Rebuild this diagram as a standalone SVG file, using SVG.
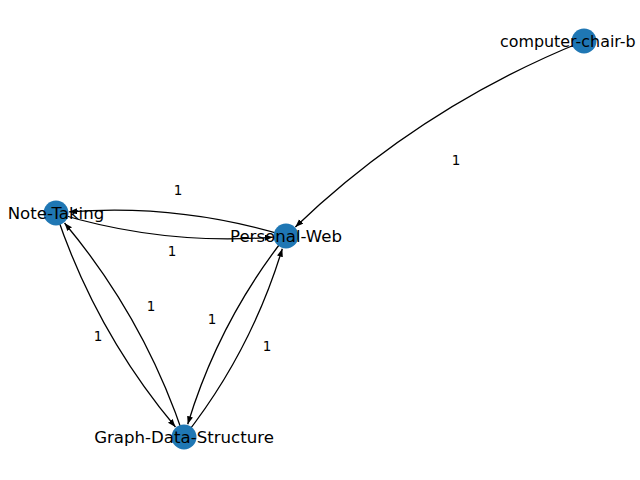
<svg xmlns="http://www.w3.org/2000/svg" width="640" height="480" viewBox="0 0 640 480">
<style>
.edge{fill:none;stroke:#000;stroke-width:1.3;marker-end:url(#arr)}
.node circle{fill:#1f77b4}
.node text{font-family:"DejaVu Sans",sans-serif;font-size:16.6px;fill:#000;text-anchor:middle}
.lbl{font-family:"DejaVu Sans",sans-serif;font-size:13.5px;fill:#000;text-anchor:middle}
</style>
<defs>
<marker id="arr" markerUnits="userSpaceOnUse" markerWidth="10" markerHeight="8" refX="8" refY="3" orient="auto">
<path d="M0,0 L8,3 L0,6 z" fill="#000"/>
</marker>
</defs>
<rect width="640" height="480" fill="#fff"/>
<g id="edges">
<path class="edge" d="M584,41 Q421.57,106.26 295.37,226.91"/>
<path class="edge" d="M56,213 Q162.39,245.57 272.88,237.14"/>
<path class="edge" d="M286,236 Q179.61,203.43 69.12,211.86"/>
<path class="edge" d="M56,213 Q95.52,331.56 175.47,427.02"/>
<path class="edge" d="M184,437 Q144.48,318.44 64.53,222.98"/>
<path class="edge" d="M286,236 Q219.02,321.06 187.72,424.23"/>
<path class="edge" d="M184,437 Q250.98,351.94 282.28,248.77"/>
</g>
<g id="node-computer-chair-b" class="node"><circle cx="584" cy="41" r="12.5"/><text x="500" y="47" style="text-anchor:start;font-size:15.9px">computer-chair-b</text></g>
<g id="node-Note-Taking" class="node"><circle cx="56" cy="213" r="12.5"/><text x="56" y="219">Note-Taking</text></g>
<g id="node-Personal-Web" class="node"><circle cx="286" cy="236" r="12.5"/><text x="286" y="242">Personal-Web</text></g>
<g id="node-Graph-Data-Structure" class="node"><circle cx="184" cy="437" r="12.5"/><text x="184" y="443">Graph-Data-Structure</text></g>
<g id="edge-labels">
<text class="lbl" x="456" y="165">1</text>
<text class="lbl" x="178" y="195">1</text>
<text class="lbl" x="172" y="256">1</text>
<text class="lbl" x="98" y="341">1</text>
<text class="lbl" x="151" y="311">1</text>
<text class="lbl" x="212" y="324">1</text>
<text class="lbl" x="267" y="351">1</text>
</g>
</svg>
